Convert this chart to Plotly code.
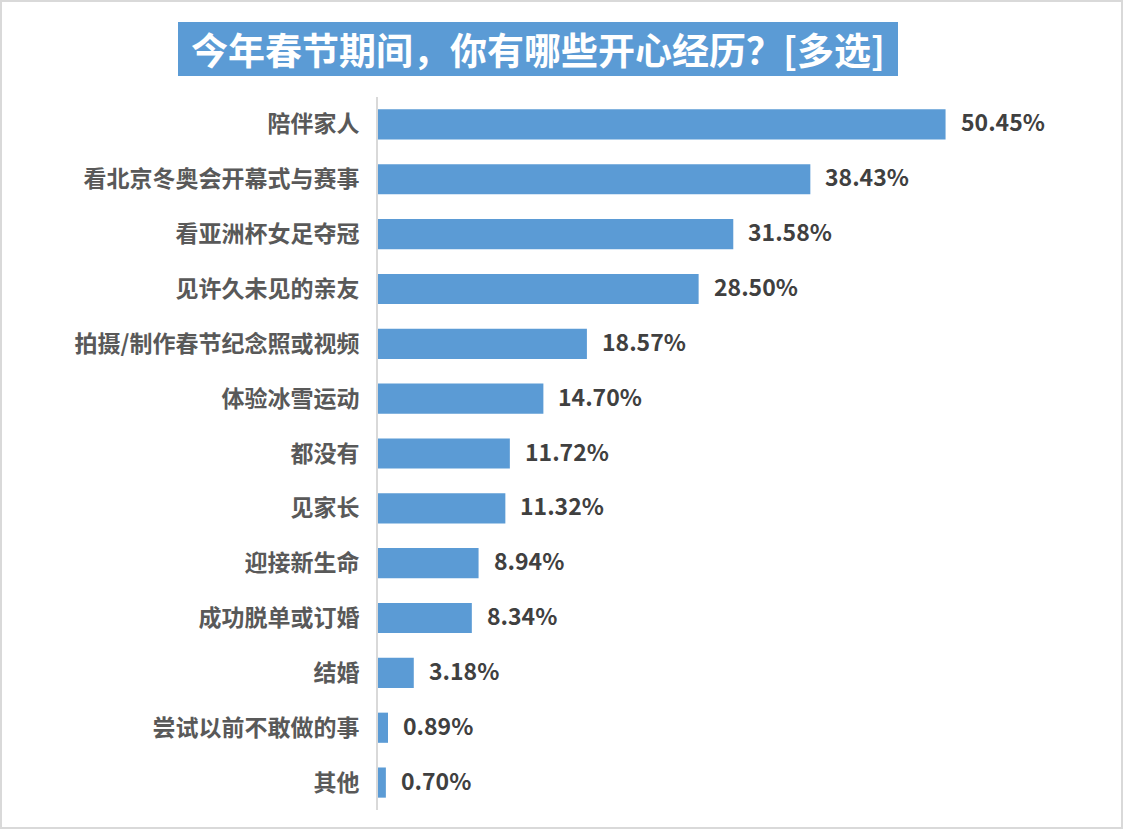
import plotly.graph_objects as go

categories = ["陪伴家人", "看北京冬奥会开幕式与赛事", "看亚洲杯女足夺冠", "见许久未见的亲友",
              "拍摄/制作春节纪念照或视频", "体验冰雪运动", "都没有", "见家长", "迎接新生命",
              "成功脱单或订婚", "结婚", "尝试以前不敢做的事", "其他"]
values = [50.45, 38.43, 31.58, 28.50, 18.57, 14.70, 11.72, 11.32, 8.94, 8.34, 3.18, 0.89, 0.70]
title_text = "今年春节期间，你有哪些开心经历？[多选]"

W, H = 1124, 830
ML, MR, MT, MB = 378, 24, 97, 20
PW, PH = W - ML - MR, H - MT - MB
FONT = "Noto Sans CJK SC"

def px_x(px):
    return (px - ML) / PW

def px_y(py):
    return (H - MB - py) / PH

fig = go.Figure(go.Bar(
    x=values, y=categories, orientation="h",
    marker=dict(color="#5b9bd5", line=dict(width=0)),
    width=0.55, hoverinfo="skip",
))

annotations = []
for c, v in zip(categories, values):
    annotations.append(dict(
        x=v, y=c, xref="x", yref="y", text=f"{v:.2f}%", showarrow=False,
        xanchor="left", yanchor="middle", xshift=13, yshift=3,
        font=dict(family=FONT, size=23, color="#404040", weight="bold"),
    ))

annotations.append(dict(
    x=px_x(538), y=px_y(49), xref="paper", yref="paper", text=title_text,
    showarrow=False, xanchor="center", yanchor="middle",
    font=dict(family=FONT, size=37, color="white", weight="bold"),
))

shapes = [
    dict(type="rect", xref="paper", yref="paper",
         x0=px_x(178), x1=px_x(898), y0=px_y(76), y1=px_y(22),
         fillcolor="#5b9bd5", line=dict(width=0), layer="below"),
    dict(type="rect", xref="paper", yref="paper",
         x0=px_x(1), x1=px_x(1122), y0=px_y(828), y1=px_y(1),
         fillcolor="rgba(0,0,0,0)", line=dict(color="#d9d9d9", width=2)),
]

fig.update_layout(
    width=W, height=H,
    margin=dict(l=ML, r=MR, t=MT, b=MB, pad=0),
    paper_bgcolor="white", plot_bgcolor="white",
    showlegend=False,
    annotations=annotations, shapes=shapes,
    xaxis=dict(range=[0, PW / 11.25], visible=False, fixedrange=True),
    yaxis=dict(
        categoryorder="array", categoryarray=categories,
        range=[len(categories) - 0.5, -0.5],
        showline=True, linecolor="#d9d9d9", linewidth=2,
        showgrid=False, zeroline=False,
        ticks="outside", ticklen=12, tickcolor="rgba(0,0,0,0)",
        tickfont=dict(family=FONT, size=23, color="#595959", weight="bold"),
        fixedrange=True,
    ),
)

fig.write_html("out.html", config={"displayModeBar": False},
               post_script="document.body.style.margin='0';document.body.style.overflow='hidden';")
